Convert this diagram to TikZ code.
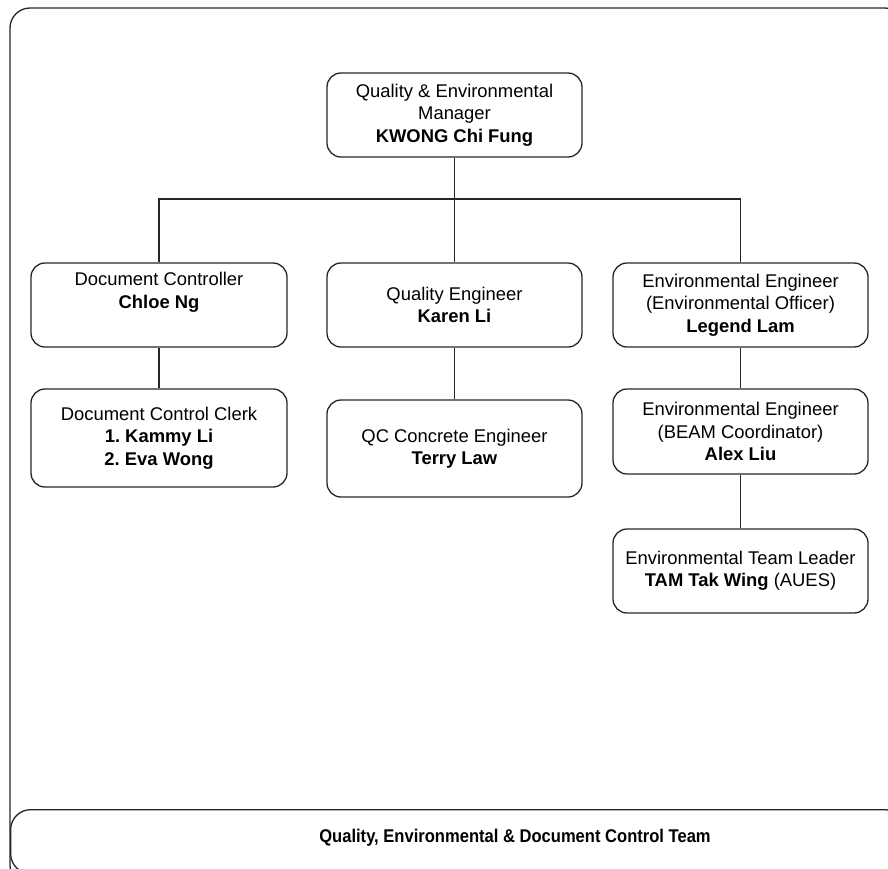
\documentclass[tikz,border=0pt]{standalone}
\usepackage{fontspec}
\setmainfont{Liberation Sans}
\frenchspacing
\begin{document}
\begin{tikzpicture}[x=1pt,y=-1pt,
  line width=1.3pt,
  box/.style={draw=black!85, rounded corners=14pt, line width=1.3pt, inner sep=0pt,
    minimum width=255pt, align=center,
    font=\fontsize{18.4}{22.5}\selectfont\frenchspacing},
  link/.style={draw=black!85, line width=1.3pt}]
\useasboundingbox (0,0) rectangle (888,868);
\clip (0,0) rectangle (888,868);
% outer frame and banner
\draw[draw=black!85, rounded corners=20pt] (10,8) rectangle (905,885);
\node[draw=black!85, fill=white, rounded corners=20pt, line width=1.3pt, minimum width=894pt, minimum height=64pt, inner sep=0pt, anchor=north west] (banner) at (10,809) {};
\node[font=\fontsize{18.4}{22}\selectfont\bfseries] (bannertext) at (515,838) {\scalebox{0.9}[1]{Quality, Environmental \& Document Control Team}};
% boxes
\node[box, minimum height=84pt] (mgr) at (454.5,115) {Quality \& Environmental\\Manager\\\textbf{KWONG Chi Fung}};
\node[box, minimum width=256pt, minimum height=84pt] (dc) at (159,305) {Document Controller\\\textbf{Chloe Ng}\\\strut};
\node[box, minimum height=84pt] (qe) at (454.5,305) {Quality Engineer\\\textbf{Karen Li}};
\node[box, minimum height=84pt] (ee) at (740.5,305) {Environmental Engineer\\(Environmental Officer)\\\textbf{Legend Lam}};
\node[box, minimum width=256pt, minimum height=98pt] (clerk) at (159,438) {Document Control Clerk\\\textbf{1. Kammy Li}\\\textbf{2. Eva Wong}};
\node[box, minimum height=97pt] (qc) at (454.5,448.5) {QC Concrete Engineer\\\textbf{Terry Law}};
\node[box, minimum height=85pt] (beam) at (740.5,431.5) {Environmental Engineer\\(BEAM Coordinator)\\\textbf{Alex Liu}};
\node[box, minimum height=84pt] (etl) at (740.5,571) {Environmental Team Leader\\\textbf{TAM Tak Wing} (AUES)};
% connectors
\coordinate (bar) at (454.5,199);
\draw[link] (mgr.south) -- (bar);
\draw[link] (dc.north) |- (bar) -| (ee.north);
\draw[link] (bar) -- (qe.north);
\draw[link] (dc.south) -- (clerk.north);
\draw[link] (qe.south) -- (qc.north);
\draw[link] (ee.south) -- (beam.north);
\draw[link] (beam.south) -- (etl.north);
\end{tikzpicture}
\end{document}
